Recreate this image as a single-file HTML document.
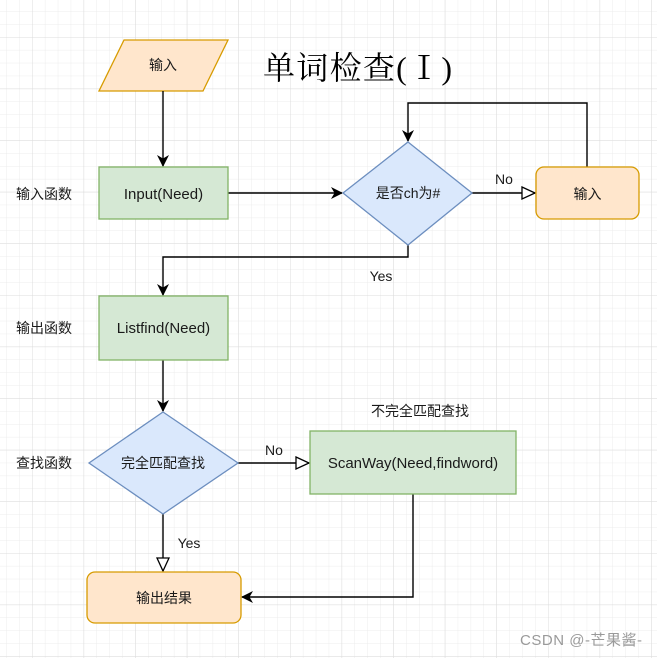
<!DOCTYPE html>
<html><head><meta charset="utf-8"><style>
html,body{margin:0;padding:0;background:#fff;}
svg{display:block;}
text{font-family:"Liberation Sans","Noto Sans CJK SC",sans-serif;fill:#1a1a1a;}
</style></head><body>
<svg width="657" height="658" viewBox="0 0 657 658" xmlns="http://www.w3.org/2000/svg">
<defs>
<pattern id="minor" x="32" y="37" width="12.9" height="12.9" patternUnits="userSpaceOnUse">
<path d="M0 0H12.9M0 0V12.9" stroke="#ececec" stroke-width="1" fill="none"/>
</pattern>
<pattern id="major" x="32" y="37" width="51.6" height="51.6" patternUnits="userSpaceOnUse">
<path d="M0 0H51.6M0 0V51.6" stroke="#dcdcdc" stroke-width="1" fill="none"/>
</pattern>
<marker id="fa" markerWidth="12" markerHeight="12" refX="11" refY="6" orient="auto" markerUnits="userSpaceOnUse"><path d="M0 0L12 6L0 12L3.5 6Z" fill="#000"/></marker>
<marker id="oa" markerWidth="15" markerHeight="15" refX="14" refY="7.5" orient="auto" markerUnits="userSpaceOnUse"><path d="M1 1.5L14 7.5L1 13.5Z" fill="#fff" stroke="#000" stroke-width="1.3"/></marker>
</defs>
<rect width="657" height="658" fill="url(#minor)"/>
<rect width="657" height="658" fill="url(#major)"/>

<text x="263" y="79" font-size="32" textLength="189" style="font-family:'Liberation Serif','Noto Serif CJK SC',serif;fill:#000">单词检查(Ⅰ)</text>

<polygon points="124,40 228,40 203,91 99,91" fill="#ffe6cc" stroke="#d79b00" stroke-width="1.3"/>
<text x="163" y="70" font-size="14" text-anchor="middle">输入</text>

<g stroke="#000" stroke-width="1.4" fill="none">
<path d="M163 91V166" marker-end="url(#fa)"/>
<path d="M228 193H342" marker-end="url(#fa)"/>
<path d="M472 193H535" marker-end="url(#oa)"/>
<path d="M587 167V103H408V141" marker-end="url(#fa)"/>
<path d="M408 245V257H163V295" marker-end="url(#fa)"/>
<path d="M163 360V411" marker-end="url(#fa)"/>
<path d="M238 463H309" marker-end="url(#oa)"/>
<path d="M413 494V597H242" marker-end="url(#fa)"/>
<path d="M163 514V571" marker-end="url(#oa)"/>
</g>

<rect x="99" y="167" width="129" height="52" fill="#d5e8d4" stroke="#82b366" stroke-width="1.3"/>
<text x="163.5" y="199" font-size="15" text-anchor="middle">Input(Need)</text>

<polygon points="408,142 472,193 408,245 343,193" fill="#dae8fc" stroke="#6c8ebf" stroke-width="1.3"/>
<text x="408" y="198" font-size="14" text-anchor="middle">是否ch为#</text>

<rect x="536" y="167" width="103" height="52" rx="8" fill="#ffe6cc" stroke="#d79b00" stroke-width="1.3"/>
<text x="587.5" y="199" font-size="14" text-anchor="middle">输入</text>

<text x="504" y="184" font-size="14" text-anchor="middle">No</text>
<text x="381" y="281" font-size="14" text-anchor="middle">Yes</text>

<rect x="99" y="296" width="129" height="64" fill="#d5e8d4" stroke="#82b366" stroke-width="1.3"/>
<text x="163.5" y="333" font-size="15" text-anchor="middle">Listfind(Need)</text>

<polygon points="163,412 238,463 163,514 89,463" fill="#dae8fc" stroke="#6c8ebf" stroke-width="1.3"/>
<text x="163" y="468" font-size="14" text-anchor="middle">完全匹配查找</text>

<text x="274" y="455" font-size="14" text-anchor="middle">No</text>
<text x="189" y="548" font-size="14" text-anchor="middle">Yes</text>

<text x="420" y="416" font-size="14" text-anchor="middle">不完全匹配查找</text>
<rect x="310" y="431" width="206" height="63" fill="#d5e8d4" stroke="#82b366" stroke-width="1.3"/>
<text x="413" y="468" font-size="15" text-anchor="middle">ScanWay(Need,findword)</text>

<rect x="87" y="572" width="154" height="51" rx="8" fill="#ffe6cc" stroke="#d79b00" stroke-width="1.3"/>
<text x="164" y="603" font-size="14" text-anchor="middle">输出结果</text>

<text x="16" y="199" font-size="14">输入函数</text>
<text x="16" y="333" font-size="14">输出函数</text>
<text x="16" y="468" font-size="14">查找函数</text>

<text x="520" y="645" font-size="15" textLength="122" style="fill:#9a9a9a">CSDN @-芒果酱-</text>
</svg>
</body></html>
